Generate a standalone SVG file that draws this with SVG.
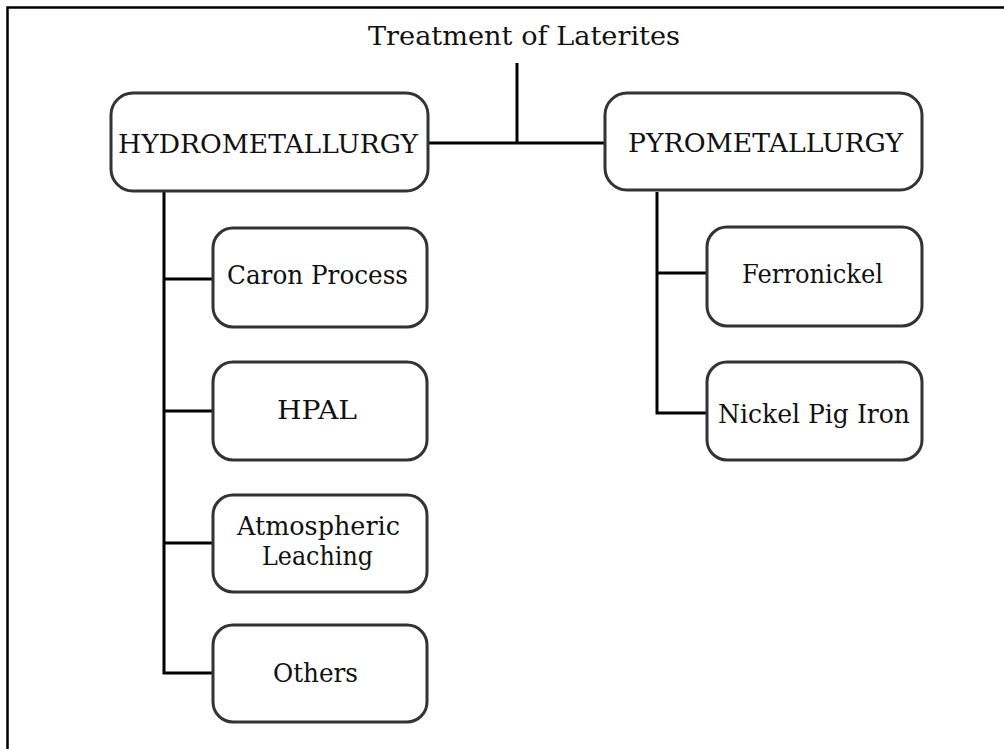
<svg xmlns="http://www.w3.org/2000/svg" width="1004" height="749" viewBox="0 0 1004 749">
<style>
.box{fill:#fff;stroke:#333;stroke-width:3}
.t{font-family:"DejaVu Serif","Liberation Serif",serif;font-size:26px;fill:#111;text-anchor:middle}
.c{fill:none;stroke:#000;stroke-width:3;stroke-linejoin:miter}
</style>
<rect width="1004" height="749" fill="#fff"/>
<path d="M7.5 749V7.5H1004" fill="none" stroke="#000" stroke-width="2.5"/>
<g id="title"><text class="t" x="524" y="45" font-size="28" textLength="312" lengthAdjust="spacingAndGlyphs">Treatment of Laterites</text></g>
<g id="connectors">
<path class="c" d="M517 63V143M428 143H605"/>
<path class="c" d="M164 192V673H213M164 279H213M164 411H213M164 543H213"/>
<path class="c" d="M657 192V413H707M657 273H707"/>
</g>
<g id="hydro"><rect class="box" x="111" y="93" width="317" height="98" rx="22"/><text class="t" x="268" y="153" textLength="300" lengthAdjust="spacingAndGlyphs">HYDROMETALLURGY</text></g>
<g id="pyro"><rect class="box" x="605" y="93" width="317" height="97" rx="22"/><text class="t" x="765.5" y="152" textLength="275" lengthAdjust="spacingAndGlyphs">PYROMETALLURGY</text></g>
<g id="caron"><rect class="box" x="213" y="228" width="214" height="99" rx="20"/><text class="t" x="317.5" y="284" textLength="181" lengthAdjust="spacingAndGlyphs">Caron Process</text></g>
<g id="hpal"><rect class="box" x="213" y="362" width="214" height="98" rx="20"/><text class="t" x="317" y="419" textLength="80" lengthAdjust="spacingAndGlyphs">HPAL</text></g>
<g id="atmos"><rect class="box" x="213" y="495" width="214" height="97" rx="20"/><text class="t" x="318.5" y="535" font-size="22" textLength="163" lengthAdjust="spacingAndGlyphs">Atmospheric</text><text class="t" x="317.5" y="565" font-size="22" textLength="111" lengthAdjust="spacingAndGlyphs">Leaching</text></g>
<g id="others"><rect class="box" x="213" y="625" width="214" height="97" rx="20"/><text class="t" x="315.5" y="682" textLength="85" lengthAdjust="spacingAndGlyphs">Others</text></g>
<g id="ferro"><rect class="box" x="707" y="227" width="215" height="99" rx="20"/><text class="t" x="812.5" y="283" textLength="141" lengthAdjust="spacingAndGlyphs">Ferronickel</text></g>
<g id="npi"><rect class="box" x="707" y="362" width="215" height="98" rx="20"/><text class="t" x="814" y="423" textLength="192" lengthAdjust="spacingAndGlyphs">Nickel Pig Iron</text></g>
</svg>
